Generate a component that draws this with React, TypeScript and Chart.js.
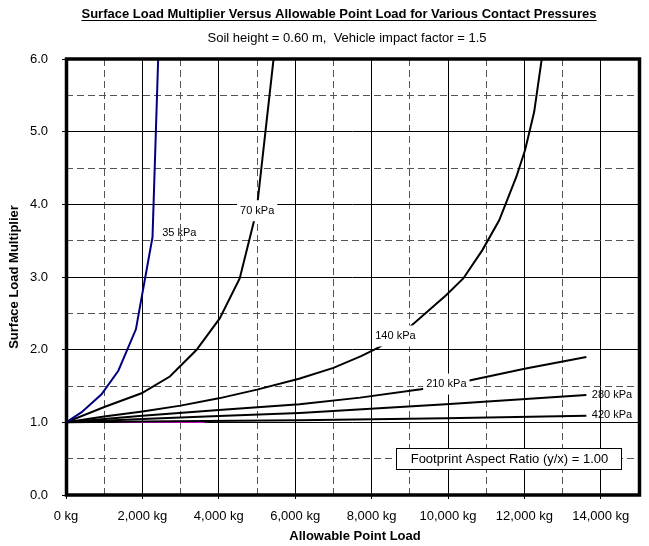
import { useEffect, useRef } from "react";
import { Chart, registerables } from "chart.js";

Chart.register(...registerables);

// ---- data ----
const p35X = [0, 410, 930, 1370, 1830, 2265, 2443];
const p35Y = [1.0, 1.14, 1.385, 1.71, 2.28, 3.55, 6.5];

const p70X = [0, 1020, 1977, 2718, 3414, 4024, 4547, 4990, 5540];
const p70Y = [1.0, 1.215, 1.4, 1.63, 1.995, 2.43, 2.98, 3.915, 6.5];

const p140X = [0, 1000, 2000, 3000, 4000, 5000, 6100, 7000, 7725, 8190, 9030, 9950, 10400, 10900, 11340, 11790, 12020, 12255, 12590];
const p140Y = [1.0, 1.08, 1.15, 1.23, 1.33, 1.45, 1.6, 1.75, 1.91, 2.03, 2.325, 2.75, 2.98, 3.37, 3.78, 4.38, 4.75, 5.27, 6.5];

const p210X = [0, 2000, 4000, 6114, 7700, 9293, 10557, 12036, 13622];
const p210Y = [1.0, 1.09, 1.17, 1.25, 1.34, 1.455, 1.575, 1.74, 1.9];

const p280X = [0, 2000, 4000, 6114, 9946, 13622];
const p280Y = [1.0, 1.045, 1.087, 1.13, 1.25, 1.376];

const p420X = [0, 2000, 6114, 9946, 13622];
const p420Y = [1.0, 1.012, 1.03, 1.055, 1.09];

const hiddenX = [1320, 3630];
const hiddenY = [1.0, 1.0];

const seriesLabels = ["35 kPa", "70 kPa", "140 kPa", "210 kPa", "280 kPa", "420 kPa"];
const labelAtX = [2966, 5004, 8623, 9956, 14293, 14293];
const labelAtY = [3.605, 3.912, 2.188, 1.527, 1.38, 1.097];
const labelBoxed = [false, true, true, true, false, false];

const titleText = "Surface Load Multiplier Versus Allowable Point Load for Various Contact Pressures";
const subtitleText = "Soil height = 0.60 m,  Vehicle impact factor = 1.5";
const xTitle = "Allowable Point Load";
const yTitle = "Surface Load Multiplier";
const noteText = "Footprint Aspect Ratio (y/x) = 1.00";

const X_MIN = 0, X_MAX = 15000, X_MINOR = 1000, X_MAJOR = 2000;
const Y_MIN = 0, Y_MAX = 6, Y_MINOR = 0.5;

const FONT = '"Liberation Sans", Arial, sans-serif';

const pts = (xs: number[], ys: number[]) => xs.map((x, i) => ({ x, y: ys[i] }));

const line = (label: string, xs: number[], ys: number[], color: string, width = 2) => ({
  label,
  data: pts(xs, ys),
  showLine: true,
  borderColor: color,
  backgroundColor: color,
  borderWidth: width,
  pointRadius: 0,
  pointHoverRadius: 0,
  tension: 0,
  fill: false,
});

const overlay = {
  id: "overlay",
  afterDatasetsDraw(chart: any) {
    const { ctx, chartArea: a, scales } = chart;
    const xs = scales.x, ys = scales.y;
    ctx.save();
    // series labels
    ctx.font = `11px ${FONT}`;
    ctx.textAlign = "center";
    ctx.textBaseline = "middle";
    seriesLabels.forEach((t, i) => {
      const px = xs.getPixelForValue(labelAtX[i]);
      const py = ys.getPixelForValue(labelAtY[i]);
      const w = ctx.measureText(t).width;
      if (labelBoxed[i]) {
        ctx.fillStyle = "#fff";
        ctx.fillRect(px - w / 2 - 3, py - 10.5, w + 6, 21);
      }
      ctx.fillStyle = "#000";
      ctx.fillText(t, px, py);
    });
    // note box
    ctx.font = `13px ${FONT}`;
    const bw = 225, bh = 21;
    const bx = a.right - 18 - bw, by = a.bottom - 26 - bh;
    ctx.fillStyle = "#fff";
    ctx.fillRect(bx, by, bw, bh);
    ctx.strokeStyle = "#000";
    ctx.lineWidth = 1;
    ctx.strokeRect(Math.round(bx) + 0.5, Math.round(by) + 0.5, bw, bh);
    ctx.fillStyle = "#000";
    ctx.fillText(noteText, bx + bw / 2 + 1, by + bh / 2 + 1);
    // frame
    ctx.lineWidth = 3.5;
    ctx.strokeStyle = "#000";
    ctx.strokeRect(a.left + 0.5, a.top, a.right - a.left, a.bottom - a.top);
    ctx.restore();
  },
  afterDraw(chart: any) {
    const { ctx } = chart;
    ctx.save();
    ctx.fillStyle = "#000";
    ctx.textAlign = "center";
    ctx.textBaseline = "middle";
    // title
    ctx.font = `bold 13px ${FONT}`;
    const tx = 339, ty = 14;
    ctx.fillText(titleText, tx, ty);
    const tw = ctx.measureText(titleText).width;
    ctx.strokeStyle = "#000";
    ctx.lineWidth = 1;
    ctx.beginPath();
    ctx.moveTo(tx - tw / 2, 20.5);
    ctx.lineTo(tx + tw / 2, 20.5);
    ctx.stroke();
    // subtitle
    ctx.font = `13px ${FONT}`;
    ctx.fillText(subtitleText, 347, 38);
    // axis titles
    ctx.font = `bold 13px ${FONT}`;
    ctx.fillText(xTitle, 355, 536);
    ctx.translate(14, 277);
    ctx.rotate(-Math.PI / 2);
    ctx.fillText(yTitle, 0, 0);
    ctx.restore();
  },
};

export default function App() {
  const ref = useRef<HTMLCanvasElement>(null);
  useEffect(() => {
    if (!ref.current) return;
    const isMajorX = (v: number) => v % X_MAJOR === 0;
    const isMajorY = (v: number) => Math.abs(v - Math.round(v)) < 1e-9;
    const chart = new Chart(ref.current, {
      type: "scatter",
      data: {
        datasets: [
          line("35 kPa", p35X, p35Y, "#000080"),
          line("70 kPa", p70X, p70Y, "#000000"),
          line("140 kPa", p140X, p140Y, "#000000"),
          line("210 kPa", p210X, p210Y, "#000000"),
          line("280 kPa", p280X, p280Y, "#000000"),
          line("420 kPa", p420X, p420Y, "#000000"),
          line("hidden", hiddenX, hiddenY, "#ff00ff", 1),
        ] as any,
      },
      options: {
        responsive: false,
        animation: false,
        events: [],
        layout: { padding: { top: 59, right: 9, left: 0, bottom: 0 } },
        plugins: { legend: { display: false }, tooltip: { enabled: false }, title: { display: false } },
        scales: {
          x: {
            type: "linear",
            min: X_MIN,
            max: X_MAX,
            afterFit: (s: any) => { s.height = 51; },
            ticks: {
              stepSize: X_MINOR,
              autoSkip: false,
              maxRotation: 0,
              padding: 10,
              color: "#000",
              font: { family: FONT, size: 13 },
              callback: (v: any) => {
                const n = Number(v);
                return isMajorX(n) && n < X_MAX ? `${n.toLocaleString("en-US")} kg` : "";
              },
            },
            grid: {
              color: (c: any) => (c.tick && isMajorX(c.tick.value) ? "#000" : "#555"),
              lineWidth: 1,
              tickLength: 4,
              tickColor: (c: any) => (c.tick && isMajorX(c.tick.value) ? "#000" : "rgba(0,0,0,0)"),
            },
            border: {
              display: false,
              dash: (c: any) => (c.tick && !isMajorX(c.tick.value) ? [7, 4] : []),
            },
          },
          y: {
            type: "linear",
            min: Y_MIN,
            max: Y_MAX,
            afterFit: (s: any) => { s.width = 66; },
            ticks: {
              stepSize: Y_MINOR,
              autoSkip: false,
              padding: 14,
              color: "#000",
              font: { family: FONT, size: 13 },
              callback: (v: any) => (isMajorY(Number(v)) ? Number(v).toFixed(1) : ""),
            },
            grid: {
              color: (c: any) => (c.tick && isMajorY(c.tick.value) ? "#000" : "#555"),
              lineWidth: 1,
              tickLength: 4,
              tickColor: (c: any) => (c.tick && isMajorY(c.tick.value) ? "#000" : "rgba(0,0,0,0)"),
            },
            border: {
              display: false,
              dash: (c: any) => (c.tick && !isMajorY(c.tick.value) ? [7, 4] : []),
            },
          },
        },
      } as any,
      plugins: [overlay],
    });
    return () => chart.destroy();
  }, []);
  return (
    <div style={{ position: "fixed", left: 0, top: 0, width: 649, height: 546, background: "#fff" }}>
      <canvas ref={ref} width={649} height={546} style={{ display: "block" }} />
    </div>
  );
}
